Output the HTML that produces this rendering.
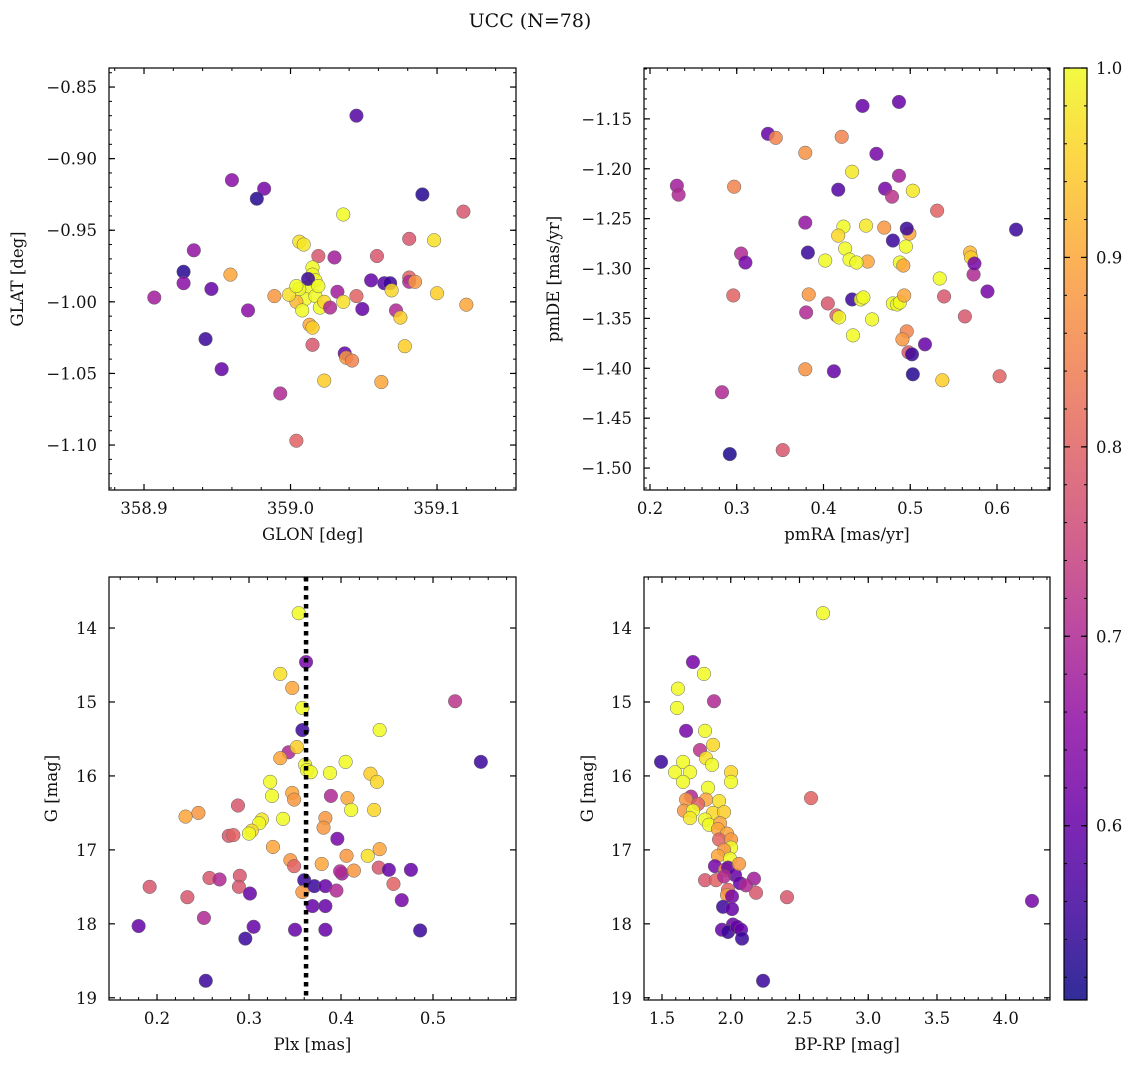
<!DOCTYPE html>
<html><head><meta charset="utf-8"><style>
body{margin:0;background:#fff;}
svg text{font-family:"DejaVu Serif","Liberation Serif",serif;fill:#111;}
</style></head><body>
<svg id="fig" width="1136" height="1067" xmlns="http://www.w3.org/2000/svg">
<rect width="1136" height="1067" fill="#fff"/>
<text x="530" y="27" font-size="19" text-anchor="middle">UCC (N=78)</text>
</svg>
<script>
// Panel 1: GLON vs GLAT
const p1Glon=[359.045,358.960,358.982,358.977,359.090,358.934,359.118,359.036,359.006,359.009,359.081,359.098,358.927,358.927,358.907,358.946,358.959,358.971,358.989,359.019,359.030,359.059,359.081,359.081,359.015,359.015,359.017,359.012,359.010,359.004,359.008,359.017,359.020,359.023,359.012,359.027,359.032,359.036,359.045,359.055,359.064,359.068,359.069,359.085,359.100,359.120,359.049,359.072,359.075,359.013,359.015,359.015,358.942,358.953,359.037,359.038,359.042,359.078,359.023,359.062,358.993,359.004,359.006,359.019,358.999,359.004];
const p1Glat=[-0.870,-0.915,-0.921,-0.928,-0.925,-0.964,-0.937,-0.939,-0.958,-0.960,-0.956,-0.957,-0.979,-0.987,-0.997,-0.991,-0.981,-1.006,-0.996,-0.968,-0.969,-0.968,-0.983,-0.986,-0.976,-0.981,-0.985,-0.990,-0.998,-1.000,-1.006,-0.996,-1.004,-1.000,-0.984,-1.004,-0.993,-1.000,-0.996,-0.985,-0.987,-0.987,-0.992,-0.986,-0.994,-1.002,-1.005,-1.006,-1.011,-1.016,-1.018,-1.030,-1.026,-1.047,-1.036,-1.039,-1.041,-1.031,-1.055,-1.056,-1.064,-1.097,-0.991,-0.989,-0.995,-0.989];
const p1Prob=[0.58,0.65,0.62,0.53,0.53,0.66,0.78,1.0,0.97,0.98,0.78,0.97,0.53,0.65,0.68,0.60,0.90,0.65,0.88,0.78,0.68,0.78,0.80,0.70,1.0,1.0,1.0,1.0,1.0,0.92,1.0,1.0,1.0,0.96,0.55,0.70,0.68,0.97,0.80,0.60,0.58,0.55,0.96,0.88,0.95,0.90,0.60,0.70,0.95,0.90,0.95,0.78,0.55,0.60,0.60,0.88,0.85,0.95,0.95,0.90,0.70,0.80,1.0,1.0,0.97,1.0];
// Panel 2: pmRA vs pmDE
const p2Pmra=[0.445,0.487,0.336,0.345,0.421,0.461,0.379,0.433,0.231,0.233,0.297,0.417,0.471,0.479,0.487,0.503,0.531,0.379,0.423,0.449,0.470,0.499,0.496,0.417,0.425,0.430,0.480,0.451,0.438,0.402,0.382,0.305,0.310,0.488,0.492,0.495,0.534,0.569,0.570,0.573,0.574,0.622,0.296,0.383,0.405,0.415,0.418,0.380,0.433,0.443,0.446,0.456,0.480,0.485,0.488,0.493,0.434,0.496,0.491,0.498,0.517,0.502,0.539,0.563,0.589,0.537,0.603,0.379,0.412,0.503,0.283,0.292,0.353];
const p2Pmde=[-1.137,-1.133,-1.165,-1.169,-1.168,-1.185,-1.184,-1.203,-1.217,-1.226,-1.218,-1.221,-1.220,-1.228,-1.207,-1.222,-1.242,-1.254,-1.258,-1.257,-1.259,-1.265,-1.260,-1.267,-1.280,-1.291,-1.272,-1.293,-1.294,-1.292,-1.284,-1.285,-1.294,-1.294,-1.297,-1.278,-1.310,-1.284,-1.289,-1.306,-1.295,-1.261,-1.327,-1.326,-1.335,-1.347,-1.349,-1.344,-1.331,-1.331,-1.329,-1.351,-1.335,-1.336,-1.334,-1.327,-1.367,-1.363,-1.371,-1.384,-1.376,-1.386,-1.328,-1.348,-1.323,-1.412,-1.408,-1.401,-1.403,-1.406,-1.424,-1.486,-1.482];
const p2Prob=[0.60,0.60,0.60,0.85,0.85,0.62,0.87,0.98,0.68,0.70,0.85,0.58,0.62,0.72,0.68,0.98,0.80,0.66,1.0,0.98,0.88,0.90,0.55,0.96,1.0,1.0,0.55,0.90,1.0,1.0,0.55,0.70,0.62,1.0,0.90,1.0,1.0,0.92,0.95,0.70,0.62,0.55,0.80,0.88,0.78,0.80,1.0,0.70,0.55,1.0,1.0,1.0,1.0,1.0,1.0,0.90,1.0,0.85,0.88,0.78,0.60,0.55,0.78,0.78,0.62,0.95,0.80,0.87,0.60,0.53,0.70,0.52,0.78];
// Panel 3: Plx vs G
const p3Plx=[0.354,0.362,0.334,0.347,0.358,0.524,0.552,0.358,0.442,0.343,0.352,0.334,0.361,0.363,0.367,0.388,0.405,0.432,0.439,0.323,0.325,0.347,0.349,0.389,0.407,0.436,0.411,0.288,0.245,0.231,0.314,0.311,0.337,0.383,0.381,0.303,0.300,0.278,0.283,0.326,0.396,0.406,0.429,0.442,0.345,0.349,0.379,0.401,0.399,0.414,0.441,0.452,0.476,0.457,0.466,0.257,0.268,0.290,0.289,0.301,0.192,0.180,0.251,0.233,0.305,0.296,0.350,0.360,0.358,0.371,0.383,0.395,0.369,0.383,0.383,0.486,0.253];
const p3G=[13.80,14.46,14.62,14.81,15.08,14.99,15.81,15.38,15.38,15.68,15.61,15.76,15.85,15.92,15.95,15.96,15.81,15.97,16.08,16.08,16.27,16.23,16.32,16.27,16.30,16.46,16.46,16.40,16.50,16.55,16.59,16.64,16.58,16.57,16.70,16.74,16.78,16.81,16.80,16.96,16.85,17.08,17.08,16.99,17.14,17.22,17.19,17.32,17.29,17.28,17.24,17.27,17.27,17.46,17.68,17.38,17.40,17.35,17.50,17.59,17.50,18.03,17.92,17.64,18.04,18.20,18.08,17.41,17.57,17.49,17.49,17.55,17.76,17.76,18.08,18.09,18.77];
const p3Prob=[1.0,0.62,0.97,0.90,1.0,0.72,0.55,0.55,1.0,0.70,0.95,0.90,1.0,1.0,1.0,1.0,1.0,0.95,0.96,1.0,1.0,0.90,0.88,0.70,0.90,0.96,1.0,0.78,0.88,0.90,0.98,1.0,1.0,0.88,0.88,0.96,1.0,0.78,0.80,0.90,0.62,0.88,0.97,0.90,0.88,0.80,0.90,0.68,0.70,0.88,0.78,0.60,0.60,0.80,0.62,0.78,0.70,0.78,0.78,0.60,0.78,0.60,0.70,0.78,0.60,0.55,0.60,0.55,0.88,0.55,0.60,0.70,0.60,0.60,0.60,0.55,0.55];
const p3Cut=[0.362];
// Panel 4: BP-RP vs G
const p4Bprp=[2.671,1.725,1.805,1.616,1.609,1.878,1.675,1.813,1.871,1.776,1.493,1.595,1.653,1.704,1.820,1.864,2.002,2.002,1.653,1.835,1.711,1.675,2.584,1.820,1.915,1.762,1.660,1.725,1.871,1.951,1.704,1.813,1.842,1.922,1.907,1.973,1.915,2.002,2.002,1.951,1.907,1.995,1.885,1.958,1.980,2.031,2.060,1.813,1.893,1.951,2.067,2.169,2.111,2.184,1.980,1.973,2.409,1.944,2.009,2.009,2.016,4.191,1.936,1.980,2.045,2.075,2.082,2.235];
const p4G=[13.80,14.46,14.62,14.82,15.08,14.99,15.39,15.39,15.58,15.65,15.81,15.95,15.81,15.95,15.76,15.85,15.95,16.08,16.08,16.16,16.28,16.32,16.30,16.32,16.34,16.38,16.47,16.47,16.50,16.49,16.57,16.59,16.66,16.64,16.72,16.78,16.86,16.86,16.97,17.00,17.08,17.12,17.22,17.27,17.24,17.34,17.19,17.41,17.41,17.36,17.45,17.39,17.48,17.58,17.54,17.61,17.64,17.77,17.63,17.80,18.01,17.69,18.08,18.11,18.04,18.08,18.20,18.77];
const p4Prob=[1.0,0.62,1.0,1.0,1.0,0.70,0.62,1.0,0.96,0.72,0.55,1.0,1.0,1.0,0.97,1.0,0.96,1.0,1.0,1.0,0.70,0.88,0.80,0.90,0.97,0.80,0.88,1.0,0.96,0.95,0.98,1.0,1.0,0.90,0.90,0.90,0.80,0.88,1.0,0.88,0.90,1.0,0.62,0.88,0.60,0.60,0.88,0.78,0.80,0.70,0.60,0.68,0.70,0.78,0.80,0.88,0.78,0.55,0.62,0.60,0.60,0.62,0.60,0.55,0.60,0.60,0.55,0.55];
// Colorbar ticks
const cbTicks=[0.6,0.7,0.8,0.9,1.0];

const NS="http://www.w3.org/2000/svg";
const svg=document.getElementById('fig');
function mk(tag,attrs,parent){const e=document.createElementNS(NS,tag);for(const k in attrs)e.setAttribute(k,attrs[k]);(parent||svg).appendChild(e);return e;}
const VMIN=0.508,VMAX=1.0;
const plasma=[[13,8,135],[65,4,157],[106,0,168],[143,13,164],[177,42,144],[204,71,120],[225,100,98],[242,132,75],[252,166,54],[252,206,37],[240,249,33]];
function cmap(v){let t=(v-VMIN)/(VMAX-VMIN);t=Math.max(0,Math.min(1,t));const f=t*10,i=Math.min(9,Math.floor(f)),r=f-i;const a=plasma[i],b=plasma[i+1];return `rgb(${a.map((c,k)=>Math.round(c+(b[k]-c)*r)).join(',')})`;}
function fmt(v,d){return (v<0?'\u2212':'')+Math.abs(v).toFixed(d);}

function panel(o){
  const g=mk('g',{});
  
  
  const X=v=>o.x0+(v-o.xlim[0])/(o.xlim[1]-o.xlim[0])*(o.x1-o.x0);
  const Y=v=>o.y1-(v-o.ylim[0])/(o.ylim[1]-o.ylim[0])*(o.y1-o.y0);
  const pg=mk('g',{},g);
  
  
  for(let i=0;i<o.xs.length;i++){
    const c=mk('circle',{cx:X(o.xs[i]),cy:Y(o.ys[i]),r:6.8,fill:cmap(o.ps[i]),'fill-opacity':0.85,stroke:'#666','stroke-width':0.5},pg);
    
    
  }
  if(o.vline!==undefined){
    const l=mk('line',{x1:X(o.vline),x2:X(o.vline),y1:o.y0,y2:o.y1,stroke:'#000','stroke-width':4.5,'stroke-dasharray':'4.5,4.5'},g);
    
    
  }
  const fr=mk('rect',{x:o.x0,y:o.y0,width:o.x1-o.x0,height:o.y1-o.y0,fill:'none',stroke:'#000','stroke-width':1.2},g);
  
  
  const eps=1e-9;
  function ticks(lo,hi,step){const r=[];let s=Math.ceil((lo-eps)/step);for(let v=s*step;v<=hi+eps;v=(++s)*step)r.push(+v.toFixed(6));return r;}
  ticks(o.xlim[0],o.xlim[1],o.xminor).forEach(v=>{const x=X(v);mk('line',{x1:x,x2:x,y1:o.y1,y2:o.y1-3,stroke:'#000'},g);mk('line',{x1:x,x2:x,y1:o.y0,y2:o.y0+3,stroke:'#000'},g);});
  ticks(o.ylim[0],o.ylim[1],o.yminor).forEach(v=>{const y=Y(v);mk('line',{x1:o.x0,x2:o.x0+3,y1:y,y2:y,stroke:'#000'},g);mk('line',{x1:o.x1,x2:o.x1-3,y1:y,y2:y,stroke:'#000'},g);});
  o.xticks.forEach(v=>{const x=X(v);mk('line',{x1:x,x2:x,y1:o.y1,y2:o.y1-6,stroke:'#000','stroke-width':1.2},g);mk('line',{x1:x,x2:x,y1:o.y0,y2:o.y0+6,stroke:'#000','stroke-width':1.2},g);
    const t=mk('text',{x:x,y:o.y1+24,'font-size':16.5,'text-anchor':'middle'},g);t.textContent=fmt(v,o.xd);
    
    });
  o.yticks.forEach(v=>{const y=Y(v);mk('line',{x1:o.x0,x2:o.x0+6,y1:y,y2:y,stroke:'#000','stroke-width':1.2},g);mk('line',{x1:o.x1,x2:o.x1-6,y1:y,y2:y,stroke:'#000','stroke-width':1.2},g);
    const t=mk('text',{x:o.x0-12,y:y+6,'font-size':16.5,'text-anchor':'end'},g);t.textContent=fmt(v,o.yd);
    
    });
  const xl=mk('text',{x:(o.x0+o.x1)/2,y:o.y1+50,'font-size':16.5,'text-anchor':'middle'},g);xl.textContent=o.xlabel;
  
  
  const yc=(o.y0+o.y1)/2;
  const yl=mk('text',{x:o.ylx,y:yc,'font-size':16.5,'text-anchor':'middle',transform:`rotate(-90 ${o.ylx} ${yc})`},g);yl.textContent=o.ylabel;
  
  
}
panel({name:'panel-glon-glat',x0:109,x1:516,y0:68,y1:490,xlim:[358.8761,359.1539],ylim:[-1.1314,-0.8367],xs:p1Glon,ys:p1Glat,ps:p1Prob,
  xticks:[358.9,359.0,359.1],yticks:[-1.10,-1.05,-1.00,-0.95,-0.90,-0.85],xminor:0.02,yminor:0.01,xd:1,yd:2,xlabel:'GLON [deg]',ylabel:'GLAT [deg]',ylx:23});
panel({name:'panel-pmra-pmde',x0:644,x1:1050,y0:68,y1:490,xlim:[0.1931,0.6611],ylim:[-1.522,-1.099],xs:p2Pmra,ys:p2Pmde,ps:p2Prob,
  xticks:[0.2,0.3,0.4,0.5,0.6],yticks:[-1.50,-1.45,-1.40,-1.35,-1.30,-1.25,-1.20,-1.15],xminor:0.02,yminor:0.01,xd:1,yd:2,xlabel:'pmRA [mas/yr]',ylabel:'pmDE [mas/yr]',ylx:559});
panel({name:'panel-plx-g',x0:109,x1:516,y0:577,y1:1000,xlim:[0.1478,0.5902],ylim:[19.03,13.31],xs:p3Plx,ys:p3G,ps:p3Prob,vline:p3Cut[0],
  xticks:[0.2,0.3,0.4,0.5],yticks:[14,15,16,17,18,19],xminor:0.02,yminor:0.2,xd:1,yd:0,xlabel:'Plx [mas]',ylabel:'G [mag]',ylx:57});
panel({name:'panel-bprp-g',x0:644,x1:1050,y0:577,y1:1000,xlim:[1.369,4.322],ylim:[19.03,13.31],xs:p4Bprp,ys:p4G,ps:p4Prob,
  xticks:[1.5,2.0,2.5,3.0,3.5,4.0],yticks:[14,15,16,17,18,19],xminor:0.1,yminor:0.2,xd:1,yd:0,xlabel:'BP-RP [mag]',ylabel:'G [mag]',ylx:593});

(function(){
  const cx0=1064,cx1=1087,cy0=68,cy1=1000;
  const g=mk('g',{});
  
  
  const defs=mk('defs',{},g);
  const lg=mk('linearGradient',{id:'cbg',x1:0,y1:1,x2:0,y2:0},defs);
  for(let i=0;i<=20;i++){const v=VMIN+(VMAX-VMIN)*i/20;mk('stop',{offset:(i/20),'stop-color':cmap(v),'stop-opacity':0.85},lg);}
  mk('rect',{x:cx0,y:cy0,width:cx1-cx0,height:cy1-cy0,fill:'url(#cbg)',stroke:'#000','stroke-width':1.2},g);
  const Y=v=>cy1-(v-VMIN)/(VMAX-VMIN)*(cy1-cy0);
  for(let v=0.52;v<=1.0001;v+=0.02){const y=Y(v);mk('line',{x1:cx1,x2:cx1-3,y1:y,y2:y,stroke:'#000'},g);mk('line',{x1:cx0,x2:cx0+3,y1:y,y2:y,stroke:'#000'},g);}
  cbTicks.forEach(v=>{const y=Y(v);mk('line',{x1:cx1,x2:cx1-6,y1:y,y2:y,stroke:'#000','stroke-width':1.2},g);mk('line',{x1:cx0,x2:cx0+6,y1:y,y2:y,stroke:'#000','stroke-width':1.2},g);
    const t=mk('text',{x:cx1+9,y:y+6,'font-size':16.5},g);t.textContent=v.toFixed(1);
    
    });
})();
</script>
</body></html>
